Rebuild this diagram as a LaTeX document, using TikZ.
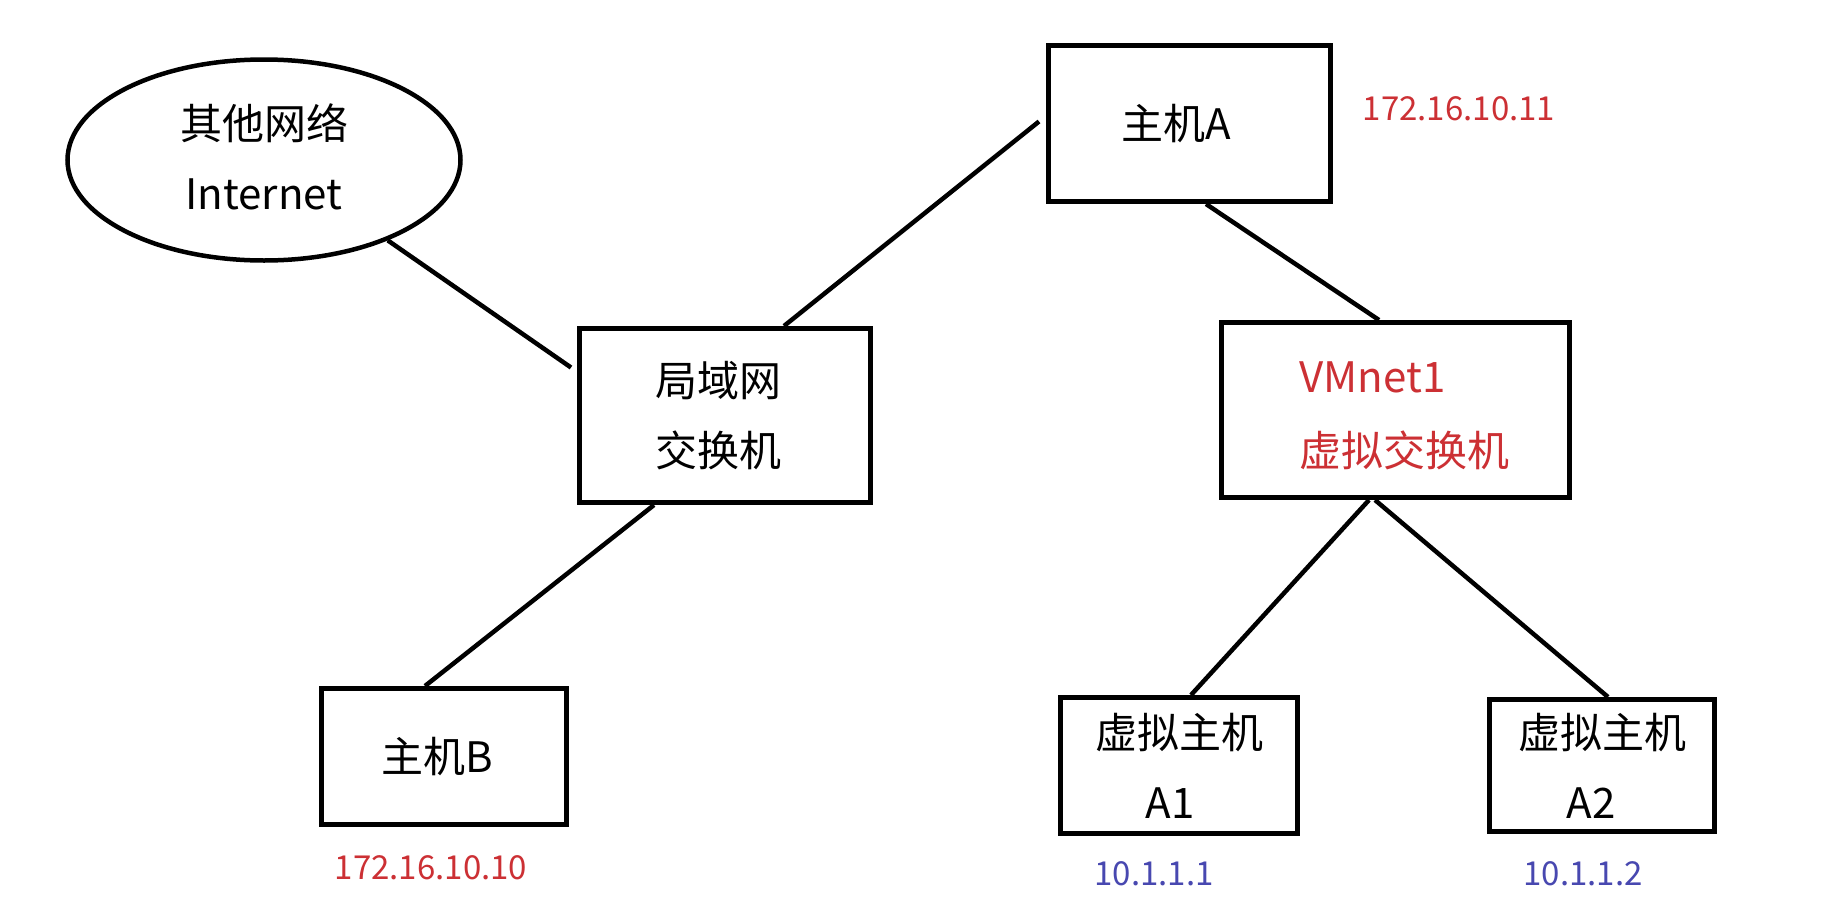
\documentclass[tikz,border=0pt]{standalone}
\usepackage{fontspec}
\setmainfont{Noto Sans CJK SC}
\usetikzlibrary{shapes.geometric}
\definecolor{ipred}{RGB}{204,48,52}
\definecolor{ipblue}{RGB}{72,72,176}
\tikzset{
  box/.style={draw=black, line width=5pt, rectangle, inner sep=0pt, align=center,
    font=\fontsize{42}{70}\selectfont},
  cloud/.style={draw=black, line width=4.5pt, ellipse, inner sep=0pt, align=center,
    font=\fontsize{42}{70}\selectfont},
  link/.style={line width=4.5pt, black},
  iplabel/.style={font=\fontsize{33}{40}\selectfont, inner sep=0pt},
}
\begin{document}
\begin{tikzpicture}[x=1pt, y=-1pt]
\fill[white] (0,0) rectangle (1840,924);
\useasboundingbox (0,0) rectangle (1840,924);

\node[cloud, minimum width=393pt, minimum height=201pt, text depth=0pt] (net) at (264,160) {\raisebox{7pt}{其他网络}\\\raisebox{7pt}{Internet}};
\node[box, minimum width=291pt, minimum height=174pt] (lan) at (725,415.5) {\hspace*{-14pt}局域网\\\hspace*{-14pt}交换机};
\node[box, minimum width=282pt, minimum height=156pt] (hostA) at (1189.5,123.5) {\hspace*{-26pt}主机A};
\node[box, minimum width=348pt, minimum height=175pt, align=left, text=ipred,
  font=\fontsize{42}{74}\selectfont] (vm) at (1395.5,410) {\raisebox{-6pt}[\height][\depth]{\hspace*{18pt}VMnet1}\\\raisebox{-6pt}[\height][\depth]{\hspace*{18pt}虚拟交换机}};
\node[box, minimum width=245pt, minimum height=136pt] (hostB) at (444,756.5) {\hspace*{-14pt}主机B};
\node[box, minimum width=237pt, minimum height=136pt] (a1) at (1179,765.5) {虚拟主机\\\hspace*{-18pt}A1};
\node[box, minimum width=225pt, minimum height=132pt] (a2) at (1602,765.5) {虚拟主机\\\hspace*{-22pt}A2};

\node[iplabel, text=ipred] (ipA) at (1459,109) {172.16.10.11};
\node[iplabel, text=ipred] (ipB) at (431,868) {172.16.10.10};
\node[iplabel, text=ipblue] (ip1) at (1154,874) {10.1.1.1};
\node[iplabel, text=ipblue] (ip2) at (1583,874) {10.1.1.2};

\draw[link] (net.-33) -- ([xshift=-6pt, yshift=48pt]lan.west);
\draw[link] ([xshift=59pt]lan.north) -- ([xshift=-7pt, yshift=2pt]hostA.west);
\draw[link] ([xshift=16.5pt]hostA.south) -- ([xshift=-16.5pt]vm.north);
\draw[link] ([xshift=-71pt]lan.south) -- ([xshift=-19pt]hostB.north);
\draw[link] ([xshift=-26.5pt]vm.south) -- ([xshift=12pt]a1.north);
\draw[link] ([xshift=-20.5pt]vm.south) -- ([xshift=6pt]a2.north);
\end{tikzpicture}
\end{document}
